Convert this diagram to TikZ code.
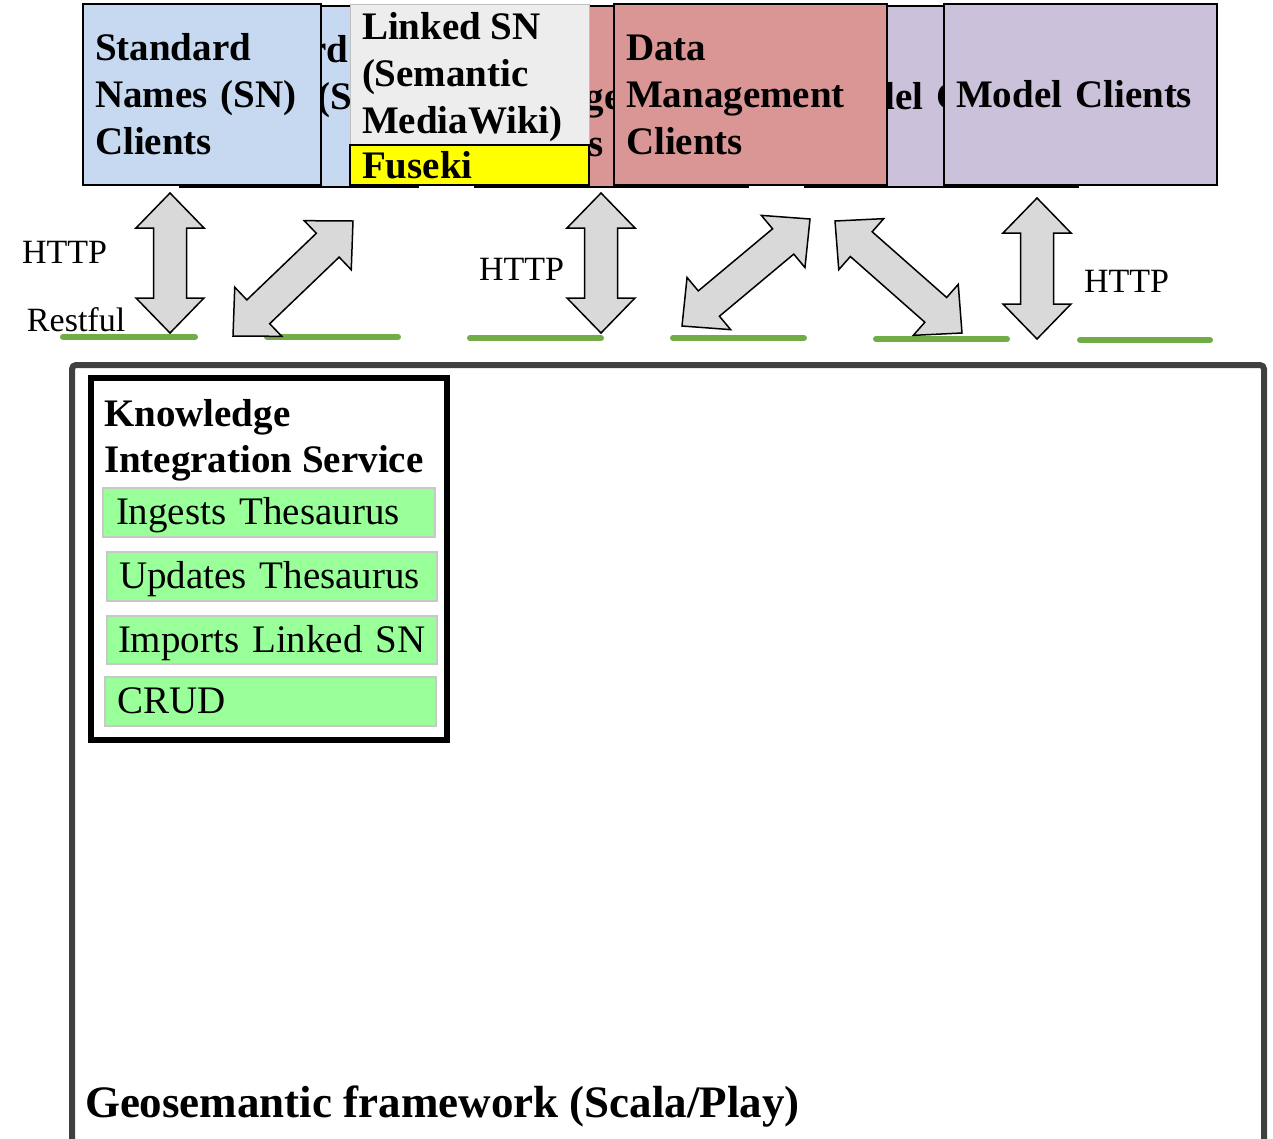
\documentclass[tikz,border=0pt]{standalone}
\usepackage{fontspec}
\setmainfont{Liberation Serif}
\usetikzlibrary{calc}

\definecolor{snblue}{HTML}{C6D9F1}
\definecolor{dmred}{HTML}{D99694}
\definecolor{mcpurple}{HTML}{CCC1DA}
\definecolor{wikigray}{HTML}{EDEDED}
\definecolor{wikiedge}{HTML}{BFBFBF}
\definecolor{fusekiyellow}{HTML}{FFFF00}
\definecolor{taskgreen}{HTML}{99FF99}
\definecolor{taskedge}{HTML}{C8C8C8}
\definecolor{ifacegreen}{HTML}{70AD47}
\definecolor{framegray}{HTML}{404040}
\definecolor{arrowgray}{HTML}{D9D9D9}

\newcommand\titlefont{\fontsize{39}{47}\selectfont\bfseries}
\newcommand\itemfont{\fontsize{39}{47}\selectfont}
\newcommand\labelfont{\fontsize{34}{40}\selectfont}
\newcommand\framefont{\fontsize{45}{54}\selectfont\bfseries}

% double-headed block arrow between two named points
\newcommand\blockarrow[2]{%
  \draw[blockarrow] (#1)
    -- ($(#1)!35pt!(#2)!34pt!90:(#2)$)
    -- ($(#1)!35pt!(#2)!16.5pt!90:(#2)$)
    -- ($(#2)!35pt!(#1)!16.5pt!-90:(#1)$)
    -- ($(#2)!35pt!(#1)!34pt!-90:(#1)$)
    -- (#2)
    -- ($(#2)!35pt!(#1)!34pt!90:(#1)$)
    -- ($(#2)!35pt!(#1)!16.5pt!90:(#1)$)
    -- ($(#1)!35pt!(#2)!16.5pt!-90:(#2)$)
    -- ($(#1)!35pt!(#2)!34pt!-90:(#2)$)
    -- cycle;}

\begin{document}
\begin{tikzpicture}[x=1pt, y=-1pt,
  every node/.style={outer sep=0pt},
  client/.style={draw=black, line width=2pt, anchor=north west,
    inner xsep=12pt, inner ysep=0pt, align=left, font=\titlefont,
    minimum height=181pt},
  task/.style={draw=taskedge, line width=2pt, fill=taskgreen, anchor=north west,
    inner ysep=0pt, align=left, font=\itemfont, text height=30pt, text depth=6pt},
  blockarrow/.style={draw=black, line width=1.5pt, fill=arrowgray, line join=miter},
  iface/.style={draw=ifacegreen, line width=6pt, line cap=round},
  lbl/.style={anchor=base west, font=\labelfont, inner sep=0pt},
  boldline/.style={anchor=base west, font=\titlefont, inner sep=0pt}]

\useasboundingbox (0,0) rectangle (1273,1138);
\clip (0,0) rectangle (1273,1138);

% client boxes standing behind
\node[client, fill=snblue, minimum width=238pt, text width=214pt] (snback) at (180,6)
  {Standard\\Names (SN)\\Clients};
\node[client, fill=dmred, minimum width=273pt, text width=249pt] (dmback) at (475,6)
  {Data\\Management\\Clients};
\node[client, fill=mcpurple, minimum width=273pt, text width=249pt] (mcback) at (805,6)
  {Model Clients};

% client boxes in front
\node[client, fill=snblue, minimum width=238pt, text width=214pt] (sn) at (83,4)
  {Standard\\Names (SN)\\Clients};
\node[client, draw=wikiedge, line width=1pt, fill=wikigray, minimum width=239pt,
  text width=215pt, minimum height=141pt] (wiki) at (350,4) {};
\node[boldline] (wikia) at (362,39) {Linked SN};
\node[boldline] (wikib) at (362,86) {(Semantic};
\node[boldline] (wikic) at (362,133) {MediaWiki)};
\node[client, fill=fusekiyellow, minimum width=239pt, text width=215pt,
  minimum height=40pt] (fuseki) at (350,145) {Fuseki};
\node[client, fill=dmred, minimum width=273pt, text width=249pt] (dm) at (614,4)
  {Data\\Management\\Clients};
\node[client, fill=mcpurple, minimum width=273pt, text width=249pt] (mc) at (944,4)
  {Model Clients};

% interface lines
\coordinate (i1a) at (63,337);   \coordinate (i1b) at (195,337);
\coordinate (i2a) at (267,337);  \coordinate (i2b) at (398,337);
\coordinate (i3a) at (470,338);  \coordinate (i3b) at (601,338);
\coordinate (i4a) at (673,338);  \coordinate (i4b) at (804,338);
\coordinate (i5a) at (876,339);  \coordinate (i5b) at (1007,339);
\coordinate (i6a) at (1080,340); \coordinate (i6b) at (1210,340);
\foreach \k in {1,...,6} {\draw[iface] (i\k a) -- (i\k b);}

% arrow ends
\coordinate (a1t) at (170,193);  \coordinate (a1b) at (170,333);
\coordinate (a2b) at (233,336);  \coordinate (a2t) at (353,221);
\coordinate (a3t) at (601,193);  \coordinate (a3b) at (601,333);
\coordinate (a4b) at (682,326);  \coordinate (a4t) at (810,219);
\coordinate (a5t) at (835,221);  \coordinate (a5b) at (962,333);
\coordinate (a6t) at (1037,198); \coordinate (a6b) at (1037,339);

\blockarrow{a1t}{a1b}
\blockarrow{a2b}{a2t}
\blockarrow{a3t}{a3b}
\blockarrow{a4b}{a4t}
\blockarrow{a5t}{a5b}
\blockarrow{a6t}{a6b}

% protocol labels
\node[lbl] (http1) at (22,263) {HTTP};
\node[lbl] (rest) at (27,331) {Restful};
\node[lbl] (http2) at (479,280) {HTTP};
\node[lbl] (http3) at (1084,292) {HTTP};

% framework container
\node[draw=framegray, line width=6pt, rounded corners=4pt, anchor=north west,
  minimum width=1192pt, minimum height=820pt] (framework) at (72,365) {};
\node[anchor=base west, inner sep=0pt, font=\framefont] (fwname) at (85,1117)
  {Geosemantic framework (Scala/Play)};

% knowledge integration service
\node[draw=black, line width=6pt, fill=white, anchor=north west,
  minimum width=356pt, minimum height=362pt] (kis) at (91,378) {};
\node[boldline] (kisa) at (104,426) {Knowledge};
\node[boldline] (kisb) at (104,472) {Integration Service};

\node[task, minimum width=332pt, minimum height=49pt, inner xsep=13pt, text width=306pt]
  (ingest) at (103,488) {Ingests Thesaurus};
\node[task, minimum width=330pt, minimum height=49pt, inner xsep=12pt, text width=306pt]
  (update) at (107,552) {Updates Thesaurus};
\node[task, minimum width=330pt, minimum height=48pt, inner xsep=11pt, text width=308pt]
  (import) at (107,616) {Imports Linked SN};
\node[task, minimum width=331pt, minimum height=49pt, inner xsep=12pt, text width=307pt]
  (crud) at (105,677) {CRUD};

\end{tikzpicture}
\end{document}
